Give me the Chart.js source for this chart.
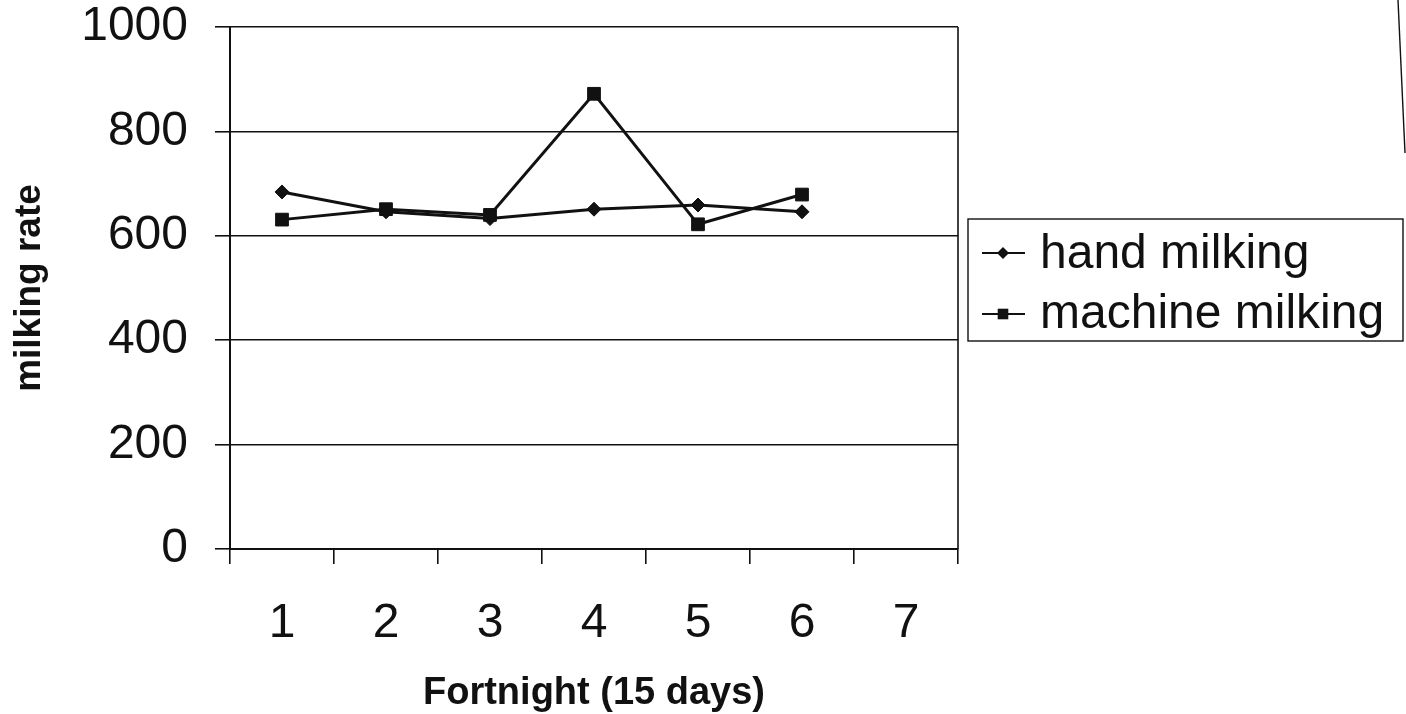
<!DOCTYPE html>
<html>
<head>
<meta charset="utf-8">
<script src="https://cdn.jsdelivr.net/npm/chart.js@4/dist/chart.umd.min.js"></script>
<style>
  html, body { margin: 0; padding: 0; background: #fff; }
  #wrap { width: 1406px; height: 714px; }
</style>
</head>
<body>
<div id="wrap"><canvas id="c" width="1406" height="714"></canvas></div>
<script>
// ---- data ----
const categories = ['1', '2', '3', '4', '5', '6', '7'];
const handMilking = [684, 646, 633, 651, 659, 646, null];
const machineMilking = [631, 651, 640, 872, 622, 679, null];
const yTicks = [0, 200, 400, 600, 800, 1000];
const seriesNames = ['hand milking', 'machine milking'];
const xTitle = 'Fortnight (15 days)';
const yTitle = 'milking rate';

const FONT = '"Liberation Sans", Arial, Helvetica, sans-serif';
const INK = '#111';

function drawMarker(ctx, style, x, y, r) {
  ctx.beginPath();
  if (style === 'rectRot') {
    ctx.moveTo(x, y - r); ctx.lineTo(x + r, y); ctx.lineTo(x, y + r); ctx.lineTo(x - r, y);
  } else {
    const s = r * Math.SQRT1_2;
    ctx.rect(x - s, y - s, 2 * s, 2 * s);
  }
  ctx.closePath();
  ctx.fill();
}

const framePlugin = {
  id: 'frame',
  afterDraw(chart) {
    const ctx = chart.ctx;
    const a = chart.chartArea;
    ctx.save();
    // right border of plot area
    ctx.strokeStyle = INK;
    ctx.lineWidth = 1.6;
    ctx.beginPath();
    ctx.moveTo(a.right, a.top);
    ctx.lineTo(a.right, a.bottom);
    ctx.stroke();
    // outer chart frame fragment at top right
    ctx.lineWidth = 1.4;
    ctx.beginPath();
    ctx.moveTo(1398, 0);
    ctx.lineTo(1405, 153);
    ctx.stroke();

    // legend
    const box = { l: 968, t: 219, r: 1403, b: 341 };
    ctx.lineWidth = 1.4;
    ctx.strokeRect(box.l, box.t, box.r - box.l, box.b - box.t);
    const rows = [253, 314];
    const baselines = [268, 328];
    ctx.font = '48px ' + FONT;
    ctx.textBaseline = 'alphabetic';
    ctx.textAlign = 'left';
    chart.data.datasets.forEach((ds, i) => {
      const y = rows[i];
      ctx.strokeStyle = ds.borderColor;
      ctx.lineWidth = 2;
      ctx.beginPath();
      ctx.moveTo(982, y);
      ctx.lineTo(1025, y);
      ctx.stroke();
      ctx.fillStyle = ds.pointBackgroundColor;
      drawMarker(ctx, ds.pointStyle, 1003, y, ds.pointStyle === 'rect' ? 7.5 : 6);
      ctx.fillStyle = INK;
      ctx.fillText(ds.label, 1040, baselines[i]);
    });
    ctx.restore();
  }
};

new Chart(document.getElementById('c'), {
  type: 'line',
  data: {
    labels: categories,
    datasets: [
      {
        label: seriesNames[0],
        data: handMilking,
        borderColor: INK,
        backgroundColor: INK,
        pointBackgroundColor: INK,
        pointBorderColor: INK,
        pointStyle: 'rectRot',
        pointRadius: 7,
        pointBorderWidth: 1,
        borderWidth: 3,
        tension: 0,
        fill: false
      },
      {
        label: seriesNames[1],
        data: machineMilking,
        borderColor: INK,
        backgroundColor: INK,
        pointBackgroundColor: INK,
        pointBorderColor: INK,
        pointStyle: 'rect',
        pointRadius: 9,
        pointBorderWidth: 1,
        borderWidth: 3,
        tension: 0,
        fill: false
      }
    ]
  },
  options: {
    responsive: false,
    animation: false,
    devicePixelRatio: 1,
    layout: { padding: { left: 0, top: 0, right: 448, bottom: 0 } },
    plugins: {
      legend: { display: false },
      tooltip: { enabled: false }
    },
    scales: {
      x: {
        type: 'category',
        offset: true,
        grid: {
          offset: true,
          drawOnChartArea: false,
          drawTicks: true,
          tickLength: 15,
          color: INK,
          lineWidth: 1.6
        },
        border: { display: true, color: INK, width: 2 },
        ticks: {
          color: INK,
          padding: 36,
          maxRotation: 0,
          autoSkip: false,
          font: { family: FONT, size: 48, lineHeight: 1 }
        },
        title: {
          display: true,
          text: xTitle,
          color: INK,
          font: { family: FONT, size: 38, weight: 'bold', lineHeight: 1 },
          padding: { top: 0, bottom: 1 }
        },
        afterFit(scale) { scale.height = 165; }
      },
      y: {
        min: 0,
        max: 1000,
        afterBuildTicks(scale) { scale.ticks = yTicks.map(v => ({ value: v })); },
        grid: {
          drawOnChartArea: true,
          drawTicks: true,
          tickLength: 15,
          color: INK,
          lineWidth: 1.6
        },
        border: { display: true, color: INK, width: 2 },
        ticks: {
          color: INK,
          padding: 27,
          callback: (v) => String(v),
          font: { family: FONT, size: 48, lineHeight: 1 }
        },
        title: {
          display: true,
          text: yTitle,
          color: INK,
          font: { family: FONT, size: 37, weight: 'bold', lineHeight: 1 },
          padding: { top: 11.5, bottom: 0 }
        },
        afterFit(scale) {
          scale.width = 230;
          scale.paddingTop = 27;
          scale.paddingBottom = 0;
        }
      }
    }
  },
  plugins: [framePlugin]
});
</script>
</body>
</html>
